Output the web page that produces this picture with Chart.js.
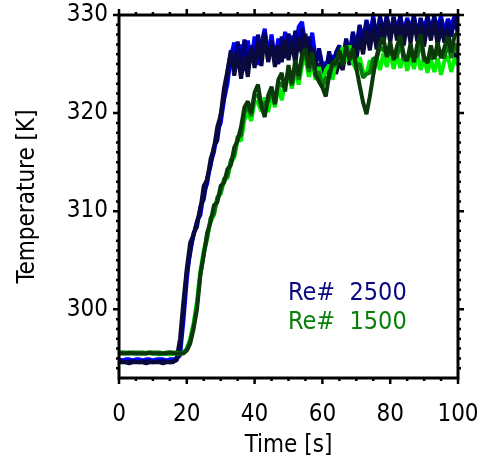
<!DOCTYPE html>
<html>
<head>
<meta charset="utf-8">
<script src="https://cdn.jsdelivr.net/npm/chart.js@4.4.1/dist/chart.umd.min.js"></script>
<style>
  html, body { margin: 0; padding: 0; background: #fff; }
  #wrap { width: 482px; height: 460px; }
</style>
</head>
<body>
<div id="wrap"><canvas id="myChart" width="482" height="460"></canvas></div>
<script>

// time axis [s]
const time = [0,1,2,3,4,5,6,7,8,9,10,11,12,13,14,15,16,17,18,19,20,21,22,23,24,25,26,27,28,29,30,31,32,33,34,35,36,37,38,39,40,41,42,43,44,45,46,47,48,49,50,51,52,53,54,55,56,57,58,59,60,61,62,63,64,65,66,67,68,69,70,71,72,73,74,75,76,77,78,79,80,81,82,83,84,85,86,87,88,89,90,91,92,93,94,95,96,97,98,99,100];

// Re# 2500 runs
const re2500Blue = [294.9,294.8,294.9,294.9,294.8,294.9,294.9,294.8,294.9,294.9,294.8,294.9,294.9,294.9,294.8,294.9,294.9,295.0,
  295.3,298.8,303.0,306.2,307.5,309.0,309.6,311.9,312.8,314.9,316.0,318.1,319.0,321.4,323.0,
  325.8,327.2,324.6,327.0,324.3,327.4,325.2,327.8,324.9,327.1,328.6,325.8,328.0,325.4,327.6,325.7,328.3,326.0,327.9,325.5,
  328.8,329.3,326.8,326.1,328.2,325.6,326.2,324.5,325.2,324.2,325.9,324.8,326.7,325.3,327.4,326.0,328.1,326.8,328.9,327.4,
  329.5,328.0,329.9,327.6,329.7,328.3,329.9,327.9,329.8,328.4,329.9,328.0,329.7,328.6,329.9,327.8,329.6,328.5,329.9,328.1,
  329.7,328.8,329.9,328.2,329.6,328.9,329.9,329.2];
const re2500Navy = [294.7,294.7,294.6,294.7,294.7,294.7,294.6,294.7,294.7,294.7,294.6,294.7,294.7,294.7,294.7,294.6,294.7,294.8,
  295.8,299.8,303.8,305.7,307.8,308.4,310.5,311.2,313.4,314.6,316.6,317.2,319.9,321.5,324.3,326.4,
  324.6,327.3,325.0,327.5,324.8,326.9,325.1,328.0,325.8,328.3,325.2,327.4,325.9,325.0,327.8,325.6,328.1,326.0,328.4,326.3,
  328.7,326.0,327.8,325.5,324.8,326.6,324.9,324.3,326.3,324.1,326.2,326.9,325.1,327.6,325.9,328.3,326.4,329.0,326.9,329.4,
  327.2,329.7,327.6,329.9,327.9,329.9,327.6,329.8,328.1,329.9,327.7,329.5,328.0,329.9,327.9,329.7,327.6,329.9,328.3,329.9,
  328.1,329.6,327.5,329.3,327.8,329.7,328.0];
const re2500Dark = [294.6,294.6,294.6,294.5,294.6,294.6,294.6,294.6,294.5,294.6,294.6,294.6,294.6,294.5,294.6,294.6,294.6,
  295.0,297.0,300.8,304.2,306.8,307.6,308.9,310.2,312.6,313.2,315.3,316.4,318.6,319.8,322.6,324.3,326.2,
  323.8,326.1,323.5,325.8,323.7,326.6,324.6,327.3,324.8,327.8,325.3,327.0,324.7,326.9,325.2,327.5,325.4,327.3,325.0,327.7,
  325.9,328.1,325.3,326.7,324.6,325.0,324.0,324.6,323.8,325.5,324.0,325.2,324.4,326.5,324.9,327.1,325.4,327.7,326.0,328.4,
  326.4,328.7,326.5,329.1,327.0,329.4,327.2,329.5,327.4,329.0,326.9,329.3,327.1,329.4,327.3,328.9,326.8,329.1,327.4,329.3,
  326.9,328.7,327.2,328.5,326.4,326.0,325.2];

// Re# 1500 runs
const re1500Lime = [295.5,295.6,295.5,295.5,295.6,295.5,295.5,295.5,295.6,295.5,295.5,295.5,295.4,295.5,295.5,295.4,295.5,295.5,295.5,295.6,
  296.0,297.0,298.6,300.8,303.9,306.0,307.4,308.9,309.6,311.2,311.8,313.1,313.4,314.9,315.5,317.3,317.2,319.3,320.1,319.2,
  321.2,321.0,320.2,321.6,320.1,322.0,320.6,322.8,321.3,323.2,323.9,322.5,324.4,322.9,324.9,325.6,323.7,325.2,323.4,324.7,
  323.1,324.4,324.9,323.4,325.3,325.9,326.7,325.3,326.9,325.1,324.4,325.7,324.2,323.9,325.4,324.0,325.7,324.4,326.1,324.7,
  326.2,324.5,325.9,324.6,326.1,324.3,325.8,324.5,326.0,324.4,325.7,324.1,325.5,324.2,325.6,323.9,325.3,325.8,324.2,325.6,
  324.9];
const re1500Green = [295.6,295.6,295.6,295.5,295.6,295.6,295.6,295.6,295.5,295.6,295.6,295.6,295.6,295.5,295.6,295.6,295.6,295.6,295.5,295.6,
  295.9,296.8,298.3,300.4,303.6,305.7,307.2,309.3,309.7,311.4,311.9,313.3,313.6,315.2,315.7,317.6,317.7,320.1,320.6,319.7,
  321.8,321.8,320.6,321.0,321.2,322.4,321.0,323.2,322.8,322.8,324.4,322.8,325.0,323.4,325.4,326.2,324.2,325.7,323.8,324.2,
  322.6,323.6,323.6,325.0,324.8,326.3,325.0,326.6,325.5,326.0,324.8,325.0,323.6,324.0,324.1,325.6,325.5,326.8,326.4,326.2,
  326.1,325.8,325.7,327.3,325.4,325.7,325.9,325.8,325.8,327.3,325.3,325.6,325.6,325.9,326.0,326.0,325.6,327.2,325.6,327.1,
  326.1];
const re1500Dark = [295.5,295.5,295.5,295.6,295.5,295.5,295.5,295.5,295.5,295.6,295.5,295.5,295.5,295.5,295.5,295.6,295.5,295.5,295.5,295.5,
  295.8,296.5,298.0,300.0,303.5,305.5,307.8,308.9,310.6,310.9,312.6,312.9,314.3,314.7,316.5,317.2,318.6,320.6,321.2,320.0,
  322.1,322.9,320.7,319.6,321.8,322.7,320.9,323.4,324.1,322.2,324.9,323.0,325.4,323.8,326.0,326.6,324.6,326.2,323.9,323.2,
  322.6,321.7,323.9,325.2,325.0,326.4,324.8,326.9,325.4,326.6,324.6,322.8,321.1,319.9,321.7,323.9,325.8,327.2,327.7,325.7,
  327.3,325.4,326.8,327.9,325.9,325.3,327.1,325.2,327.0,328.0,325.7,325.1,326.9,325.5,327.2,325.6,326.7,327.8,326.2,327.9,
  328.2];

const xTicks = [0, 20, 40, 60, 80, 100];
const yTicks = [300, 310, 320, 330];
const legendLabels = ['Re#  2500', 'Re#  1500'];

const FONT = "'DejaVu Sans Condensed', 'DejaVu Sans', sans-serif";
const FSIZE = 24;

const pts = (ys) => ys.map((y, i) => ({ x: time[i], y: y }));

const line = (label, ys, color) => ({
  label: label,
  data: pts(ys),
  borderColor: color,
  borderWidth: 4,
  pointRadius: 0,
  tension: 0,
  borderJoinStyle: 'bevel',
  fill: false
});

// no extra room for overflowing tick labels, keep the plot box fixed
const noPad = (s) => { s.paddingLeft = 0; s.paddingRight = 0; s.paddingTop = 0; s.paddingBottom = 0; };

// frame + IDL style ticks on all four sides
const boxPlugin = {
  id: 'box',
  afterDraw(chart) {
    const ctx = chart.ctx;
    const a = chart.chartArea;
    const xs = chart.scales.x, ys = chart.scales.y;
    ctx.save();
    ctx.strokeStyle = '#000';
    ctx.lineWidth = 3;
    ctx.strokeRect(a.left, a.top, a.right - a.left, a.bottom - a.top);
    ctx.lineWidth = 2.5;
    ctx.beginPath();
    for (let v = 0; v <= 100; v += 5) {
      const p = xs.getPixelForValue(v);
      const len = v % 20 === 0 ? 6 : 3;
      ctx.moveTo(p, a.bottom); ctx.lineTo(p, a.bottom + len);
      ctx.moveTo(p, a.top); ctx.lineTo(p, a.top - len);
    }
    for (let v = 294; v <= 330; v += 1) {
      const p = ys.getPixelForValue(v);
      const len = v % 10 === 0 ? 6 : 3;
      ctx.moveTo(a.left, p); ctx.lineTo(a.left - len, p);
      ctx.moveTo(a.right, p); ctx.lineTo(a.right + len, p);
    }
    ctx.stroke();

    // labels for the two groups
    ctx.font = '25px ' + FONT;
    ctx.textBaseline = 'middle';
    ctx.textAlign = 'left';
    ctx.fillStyle = '#0a0a80';
    ctx.fillText(legendLabels[0], 288, 293);
    ctx.fillStyle = '#0a800a';
    ctx.fillText(legendLabels[1], 288, 322);
    ctx.restore();
  }
};

new Chart(document.getElementById('myChart'), {
  type: 'line',
  data: {
    datasets: [
      line('1500 dark', re1500Dark, '#0a3a0a'),
      line('1500 green', re1500Green, '#0a7a0a'),
      line('1500 lime', re1500Lime, '#00f000'),
      line('2500 dark', re2500Dark, '#0a0a3c'),
      line('2500 navy', re2500Navy, '#00007a'),
      line('2500 blue', re2500Blue, '#0000ff')
    ]
  },
  options: {
    responsive: false,
    animation: false,
    layout: { padding: { left: 0, right: 24, top: 15, bottom: 0 } },
    plugins: { legend: { display: false }, tooltip: { enabled: false } },
    scales: {
      x: {
        type: 'linear',
        min: 0,
        max: 100,
        grid: { display: false, drawTicks: false },
        border: { display: false },
        afterBuildTicks: (s) => { s.ticks = xTicks.map(v => ({ value: v })); },
        afterFit: (s) => { s.height = 82; noPad(s); },
        ticks: { color: '#000', font: { family: FONT, size: FSIZE }, padding: 22, maxRotation: 0 },
        title: { display: true, text: 'Time [s]', color: '#000', font: { family: FONT, size: FSIZE }, padding: { top: 0, bottom: 0 } }
      },
      y: {
        type: 'linear',
        min: 293,
        max: 330,
        grid: { display: false, drawTicks: false },
        border: { display: false },
        afterBuildTicks: (s) => { s.ticks = yTicks.map(v => ({ value: v })); },
        afterFit: (s) => { s.width = 119; noPad(s); },
        ticks: { color: '#000', font: { family: FONT, size: FSIZE }, padding: 11 },
        title: { display: true, text: 'Temperature [K]', color: '#000', font: { family: FONT, size: FSIZE }, padding: { top: 13, bottom: 0 } }
      }
    }
  },
  plugins: [boxPlugin]
});
</script>
</body>
</html>
